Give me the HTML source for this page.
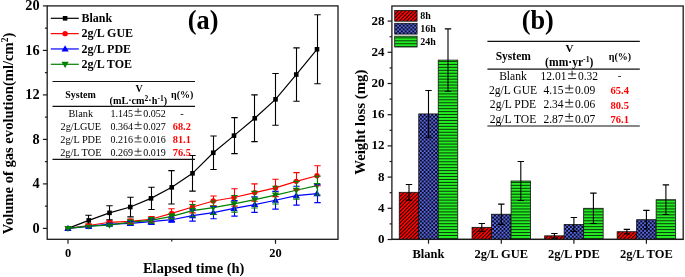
<!DOCTYPE html>
<html><head><meta charset="utf-8"><title>Chart</title>
<style>html,body{margin:0;padding:0;background:#fff;width:685px;height:277px;overflow:hidden;font-family:"Liberation Serif",serif;}
.wrap{position:relative;width:685px;height:277px;}</style></head>
<body><div class="wrap">
<svg width="685" height="277" viewBox="0 0 685 277" style="position:absolute;left:0;top:0;will-change:transform">
<defs>
<pattern id="pr" patternUnits="userSpaceOnUse" width="2.65" height="2.65" patternTransform="rotate(45)"><rect width="2.65" height="2.65" fill="#ff0000"/><rect width="0.9" height="2.65" fill="#000"/></pattern>
<pattern id="pb" patternUnits="userSpaceOnUse" width="3.8" height="3.8"><rect width="3.8" height="3.8" fill="#06061e"/><circle cx="0.95" cy="0.95" r="1.05" fill="#6677fa"/><circle cx="2.85" cy="2.85" r="1.05" fill="#6677fa"/></pattern>
<pattern id="pg" patternUnits="userSpaceOnUse" width="4" height="2.95"><rect width="4" height="2.95" fill="#22ee22"/><rect y="1.95" width="4" height="1.0" fill="#0a3a0a"/></pattern>
</defs>
<rect x="47.2" y="5.9" width="290.8" height="233.4" fill="none" stroke="#1a1a1a" stroke-width="1.3"/>
<line x1="42.900000000000006" y1="228.4" x2="47.2" y2="228.4" stroke="#1a1a1a" stroke-width="1.2"/>
<text x="39.6" y="232.8" text-anchor="end" font-family='"Liberation Serif", serif' font-weight="bold" font-size="14.3">0</text>
<line x1="44.900000000000006" y1="206.15" x2="47.2" y2="206.15" stroke="#1a1a1a" stroke-width="1.2"/>
<line x1="42.900000000000006" y1="183.9" x2="47.2" y2="183.9" stroke="#1a1a1a" stroke-width="1.2"/>
<text x="39.6" y="188.3" text-anchor="end" font-family='"Liberation Serif", serif' font-weight="bold" font-size="14.3">4</text>
<line x1="44.900000000000006" y1="161.65" x2="47.2" y2="161.65" stroke="#1a1a1a" stroke-width="1.2"/>
<line x1="42.900000000000006" y1="139.4" x2="47.2" y2="139.4" stroke="#1a1a1a" stroke-width="1.2"/>
<text x="39.6" y="143.8" text-anchor="end" font-family='"Liberation Serif", serif' font-weight="bold" font-size="14.3">8</text>
<line x1="44.900000000000006" y1="117.15" x2="47.2" y2="117.15" stroke="#1a1a1a" stroke-width="1.2"/>
<line x1="42.900000000000006" y1="94.9" x2="47.2" y2="94.9" stroke="#1a1a1a" stroke-width="1.2"/>
<text x="39.6" y="99.30000000000001" text-anchor="end" font-family='"Liberation Serif", serif' font-weight="bold" font-size="14.3">12</text>
<line x1="44.900000000000006" y1="72.65" x2="47.2" y2="72.65" stroke="#1a1a1a" stroke-width="1.2"/>
<line x1="42.900000000000006" y1="50.400000000000006" x2="47.2" y2="50.400000000000006" stroke="#1a1a1a" stroke-width="1.2"/>
<text x="39.6" y="54.800000000000004" text-anchor="end" font-family='"Liberation Serif", serif' font-weight="bold" font-size="14.3">16</text>
<line x1="44.900000000000006" y1="28.150000000000006" x2="47.2" y2="28.150000000000006" stroke="#1a1a1a" stroke-width="1.2"/>
<line x1="42.900000000000006" y1="5.900000000000006" x2="47.2" y2="5.900000000000006" stroke="#1a1a1a" stroke-width="1.2"/>
<text x="39.6" y="10.300000000000006" text-anchor="end" font-family='"Liberation Serif", serif' font-weight="bold" font-size="14.3">20</text>
<line x1="68.0" y1="239.3" x2="68.0" y2="243.8" stroke="#1a1a1a" stroke-width="1.2"/>
<text x="68.0" y="256.8" text-anchor="middle" font-family='"Liberation Serif", serif' font-weight="bold" font-size="12.4">0</text>
<line x1="171.75" y1="239.3" x2="171.75" y2="241.60000000000002" stroke="#1a1a1a" stroke-width="1.2"/>
<line x1="275.5" y1="239.3" x2="275.5" y2="243.8" stroke="#1a1a1a" stroke-width="1.2"/>
<text x="275.5" y="256.8" text-anchor="middle" font-family='"Liberation Serif", serif' font-weight="bold" font-size="12.4">20</text>
<text x="193.7" y="272.9" text-anchor="middle" font-family='"Liberation Serif", serif' font-weight="bold" font-size="14.5">Elapsed time (h)</text>
<text transform="translate(13.0,133.5) rotate(-90)" text-anchor="middle" font-family='"Liberation Serif", serif' font-weight="bold" font-size="14.6">Volume of gas evolution(ml/cm<tspan dy="-5" font-size="9.5">2</tspan><tspan dy="5">)</tspan></text>
<text x="203.2" y="28.9" text-anchor="middle" font-family='"Liberation Serif", serif' font-weight="bold" font-size="26.3">(a)</text>
<polyline points="68.00,228.40 88.75,220.39 109.50,212.83 130.25,207.04 151.00,198.36 171.75,187.35 192.50,173.33 213.25,152.75 234.00,135.62 254.75,118.26 275.50,99.35 296.25,74.54 317.00,49.29" fill="none" stroke="#000000" stroke-width="1.2"/>
<rect x="65.70" y="226.10" width="4.6" height="4.6" fill="#000000"/>
<rect x="86.45" y="218.09" width="4.6" height="4.6" fill="#000000"/>
<rect x="107.20" y="210.53" width="4.6" height="4.6" fill="#000000"/>
<rect x="127.95" y="204.74" width="4.6" height="4.6" fill="#000000"/>
<rect x="148.70" y="196.06" width="4.6" height="4.6" fill="#000000"/>
<rect x="169.45" y="185.05" width="4.6" height="4.6" fill="#000000"/>
<rect x="190.20" y="171.03" width="4.6" height="4.6" fill="#000000"/>
<rect x="210.95" y="150.45" width="4.6" height="4.6" fill="#000000"/>
<rect x="231.70" y="133.32" width="4.6" height="4.6" fill="#000000"/>
<rect x="252.45" y="115.96" width="4.6" height="4.6" fill="#000000"/>
<rect x="273.20" y="97.05" width="4.6" height="4.6" fill="#000000"/>
<rect x="293.95" y="72.24" width="4.6" height="4.6" fill="#000000"/>
<rect x="314.70" y="46.99" width="4.6" height="4.6" fill="#000000"/>
<polyline points="68.00,228.40 88.75,225.51 109.50,222.28 130.25,221.28 151.00,219.28 171.75,213.38 192.50,207.04 213.25,201.03 234.00,197.47 254.75,192.58 275.50,187.91 296.25,181.34 317.00,175.78" fill="none" stroke="#ff0000" stroke-width="1.2"/>
<circle cx="68.00" cy="228.40" r="2.7" fill="#ff0000"/>
<circle cx="88.75" cy="225.51" r="2.7" fill="#ff0000"/>
<circle cx="109.50" cy="222.28" r="2.7" fill="#ff0000"/>
<circle cx="130.25" cy="221.28" r="2.7" fill="#ff0000"/>
<circle cx="151.00" cy="219.28" r="2.7" fill="#ff0000"/>
<circle cx="171.75" cy="213.38" r="2.7" fill="#ff0000"/>
<circle cx="192.50" cy="207.04" r="2.7" fill="#ff0000"/>
<circle cx="213.25" cy="201.03" r="2.7" fill="#ff0000"/>
<circle cx="234.00" cy="197.47" r="2.7" fill="#ff0000"/>
<circle cx="254.75" cy="192.58" r="2.7" fill="#ff0000"/>
<circle cx="275.50" cy="187.91" r="2.7" fill="#ff0000"/>
<circle cx="296.25" cy="181.34" r="2.7" fill="#ff0000"/>
<circle cx="317.00" cy="175.78" r="2.7" fill="#ff0000"/>
<polyline points="68.00,228.40 88.75,226.40 109.50,224.17 130.25,223.39 151.00,221.72 171.75,219.72 192.50,215.61 213.25,212.60 234.00,208.38 254.75,204.59 275.50,200.25 296.25,195.69 317.00,193.69" fill="none" stroke="#0000ff" stroke-width="1.2"/>
<polygon points="68.00,224.80 71.60,230.92 64.40,230.92" fill="#0000ff"/>
<polygon points="88.75,222.80 92.35,228.92 85.15,228.92" fill="#0000ff"/>
<polygon points="109.50,220.57 113.10,226.69 105.90,226.69" fill="#0000ff"/>
<polygon points="130.25,219.79 133.85,225.91 126.65,225.91" fill="#0000ff"/>
<polygon points="151.00,218.12 154.60,224.25 147.40,224.25" fill="#0000ff"/>
<polygon points="171.75,216.12 175.35,222.24 168.15,222.24" fill="#0000ff"/>
<polygon points="192.50,212.01 196.10,218.13 188.90,218.13" fill="#0000ff"/>
<polygon points="213.25,209.00 216.85,215.12 209.65,215.12" fill="#0000ff"/>
<polygon points="234.00,204.78 237.60,210.90 230.40,210.90" fill="#0000ff"/>
<polygon points="254.75,200.99 258.35,207.11 251.15,207.11" fill="#0000ff"/>
<polygon points="275.50,196.65 279.10,202.77 271.90,202.77" fill="#0000ff"/>
<polygon points="296.25,192.09 299.85,198.21 292.65,198.21" fill="#0000ff"/>
<polygon points="317.00,190.09 320.60,196.21 313.40,196.21" fill="#0000ff"/>
<polyline points="68.00,228.40 88.75,226.18 109.50,225.06 130.25,222.17 151.00,220.39 171.75,216.38 192.50,210.60 213.25,207.71 234.00,203.81 254.75,199.70 275.50,195.14 296.25,190.24 317.00,185.57" fill="none" stroke="#008000" stroke-width="1.2"/>
<polygon points="68.00,232.00 71.60,225.88 64.40,225.88" fill="#008000"/>
<polygon points="88.75,229.78 92.35,223.66 85.15,223.66" fill="#008000"/>
<polygon points="109.50,228.66 113.10,222.54 105.90,222.54" fill="#008000"/>
<polygon points="130.25,225.77 133.85,219.65 126.65,219.65" fill="#008000"/>
<polygon points="151.00,223.99 154.60,217.87 147.40,217.87" fill="#008000"/>
<polygon points="171.75,219.98 175.35,213.86 168.15,213.86" fill="#008000"/>
<polygon points="192.50,214.20 196.10,208.08 188.90,208.08" fill="#008000"/>
<polygon points="213.25,211.31 216.85,205.19 209.65,205.19" fill="#008000"/>
<polygon points="234.00,207.41 237.60,201.29 230.40,201.29" fill="#008000"/>
<polygon points="254.75,203.30 258.35,197.18 251.15,197.18" fill="#008000"/>
<polygon points="275.50,198.74 279.10,192.62 271.90,192.62" fill="#008000"/>
<polygon points="296.25,193.84 299.85,187.72 292.65,187.72" fill="#008000"/>
<polygon points="317.00,189.17 320.60,183.05 313.40,183.05" fill="#008000"/>
<path d="M88.50,215.27V225.51M85.30,215.27H91.70M85.30,225.51H91.70" stroke="#000000" stroke-width="1.1" fill="none"/>
<path d="M109.50,205.82V219.83M106.30,205.82H112.70M106.30,219.83H112.70" stroke="#000000" stroke-width="1.1" fill="none"/>
<path d="M130.50,197.25V216.83M127.30,197.25H133.70M127.30,216.83H133.70" stroke="#000000" stroke-width="1.1" fill="none"/>
<path d="M151.50,187.24V209.49M148.30,187.24H154.70M148.30,209.49H154.70" stroke="#000000" stroke-width="1.1" fill="none"/>
<path d="M171.50,170.66V204.04M168.30,170.66H174.70M168.30,204.04H174.70" stroke="#000000" stroke-width="1.1" fill="none"/>
<path d="M192.50,155.53V191.13M189.30,155.53H195.70M189.30,191.13H195.70" stroke="#000000" stroke-width="1.1" fill="none"/>
<path d="M213.50,136.06V169.44M210.30,136.06H216.70M210.30,169.44H216.70" stroke="#000000" stroke-width="1.1" fill="none"/>
<path d="M234.50,117.59V153.64M231.30,117.59H237.70M231.30,153.64H237.70" stroke="#000000" stroke-width="1.1" fill="none"/>
<path d="M254.50,94.90V141.62M251.30,94.90H257.70M251.30,141.62H257.70" stroke="#000000" stroke-width="1.1" fill="none"/>
<path d="M275.50,73.43V125.27M272.30,73.43H278.70M272.30,125.27H278.70" stroke="#000000" stroke-width="1.1" fill="none"/>
<path d="M296.50,47.84V101.24M293.30,47.84H299.70M293.30,101.24H299.70" stroke="#000000" stroke-width="1.1" fill="none"/>
<path d="M317.50,14.80V83.77M314.30,14.80H320.70M314.30,83.77H320.70" stroke="#000000" stroke-width="1.1" fill="none"/>
<path d="M88.50,224.17V226.84M85.30,224.17H91.70M85.30,226.84H91.70" stroke="#ff0000" stroke-width="1.1" fill="none"/>
<path d="M109.50,221.17V223.39M106.30,221.17H112.70M106.30,223.39H112.70" stroke="#ff0000" stroke-width="1.1" fill="none"/>
<path d="M130.50,219.17V223.39M127.30,219.17H133.70M127.30,223.39H133.70" stroke="#ff0000" stroke-width="1.1" fill="none"/>
<path d="M151.50,216.50V222.06M148.30,216.50H154.70M148.30,222.06H154.70" stroke="#ff0000" stroke-width="1.1" fill="none"/>
<path d="M171.50,208.71V218.05M168.30,208.71H174.70M168.30,218.05H174.70" stroke="#ff0000" stroke-width="1.1" fill="none"/>
<path d="M192.50,201.25V212.83M189.30,201.25H195.70M189.30,212.83H195.70" stroke="#ff0000" stroke-width="1.1" fill="none"/>
<path d="M213.50,196.03V206.04M210.30,196.03H216.70M210.30,206.04H216.70" stroke="#ff0000" stroke-width="1.1" fill="none"/>
<path d="M234.50,188.80V206.15M231.30,188.80H237.70M231.30,206.15H237.70" stroke="#ff0000" stroke-width="1.1" fill="none"/>
<path d="M254.50,183.90V201.25M251.30,183.90H257.70M251.30,201.25H257.70" stroke="#ff0000" stroke-width="1.1" fill="none"/>
<path d="M275.50,179.23V196.58M272.30,179.23H278.70M272.30,196.58H278.70" stroke="#ff0000" stroke-width="1.1" fill="none"/>
<path d="M296.50,172.66V190.02M293.30,172.66H299.70M293.30,190.02H299.70" stroke="#ff0000" stroke-width="1.1" fill="none"/>
<path d="M317.50,165.77V185.79M314.30,165.77H320.70M314.30,185.79H320.70" stroke="#ff0000" stroke-width="1.1" fill="none"/>
<path d="M88.50,225.84V226.95M85.30,225.84H91.70M85.30,226.95H91.70" stroke="#0000ff" stroke-width="1.1" fill="none"/>
<path d="M109.50,223.28V225.06M106.30,223.28H112.70M106.30,225.06H112.70" stroke="#0000ff" stroke-width="1.1" fill="none"/>
<path d="M130.50,221.39V225.40M127.30,221.39H133.70M127.30,225.40H133.70" stroke="#0000ff" stroke-width="1.1" fill="none"/>
<path d="M151.50,218.94V224.51M148.30,218.94H154.70M148.30,224.51H154.70" stroke="#0000ff" stroke-width="1.1" fill="none"/>
<path d="M171.50,217.28V222.17M168.30,217.28H174.70M168.30,222.17H174.70" stroke="#0000ff" stroke-width="1.1" fill="none"/>
<path d="M192.50,210.04V221.17M189.30,210.04H195.70M189.30,221.17H195.70" stroke="#0000ff" stroke-width="1.1" fill="none"/>
<path d="M213.50,206.48V218.72M210.30,206.48H216.70M210.30,218.72H216.70" stroke="#0000ff" stroke-width="1.1" fill="none"/>
<path d="M234.50,200.59V216.16M231.30,200.59H237.70M231.30,216.16H237.70" stroke="#0000ff" stroke-width="1.1" fill="none"/>
<path d="M254.50,196.81V212.38M251.30,196.81H257.70M251.30,212.38H257.70" stroke="#0000ff" stroke-width="1.1" fill="none"/>
<path d="M275.50,191.35V209.15M272.30,191.35H278.70M272.30,209.15H278.70" stroke="#0000ff" stroke-width="1.1" fill="none"/>
<path d="M296.50,186.24V205.15M293.30,186.24H299.70M293.30,205.15H299.70" stroke="#0000ff" stroke-width="1.1" fill="none"/>
<path d="M317.50,184.79V202.59M314.30,184.79H320.70M314.30,202.59H320.70" stroke="#0000ff" stroke-width="1.1" fill="none"/>
<path d="M88.50,225.51V226.84M85.30,225.51H91.70M85.30,226.84H91.70" stroke="#008000" stroke-width="1.1" fill="none"/>
<path d="M109.50,224.17V225.95M106.30,224.17H112.70M106.30,225.95H112.70" stroke="#008000" stroke-width="1.1" fill="none"/>
<path d="M130.50,219.94V224.40M127.30,219.94H133.70M127.30,224.40H133.70" stroke="#008000" stroke-width="1.1" fill="none"/>
<path d="M151.50,217.61V223.17M148.30,217.61H154.70M148.30,223.17H154.70" stroke="#008000" stroke-width="1.1" fill="none"/>
<path d="M171.50,213.94V218.83M168.30,213.94H174.70M168.30,218.83H174.70" stroke="#008000" stroke-width="1.1" fill="none"/>
<path d="M192.50,204.48V216.72M189.30,204.48H195.70M189.30,216.72H195.70" stroke="#008000" stroke-width="1.1" fill="none"/>
<path d="M213.50,201.03V214.38M210.30,201.03H216.70M210.30,214.38H216.70" stroke="#008000" stroke-width="1.1" fill="none"/>
<path d="M234.50,195.47V212.16M231.30,195.47H237.70M231.30,212.16H237.70" stroke="#008000" stroke-width="1.1" fill="none"/>
<path d="M254.50,191.35V208.04M251.30,191.35H257.70M251.30,208.04H257.70" stroke="#008000" stroke-width="1.1" fill="none"/>
<path d="M275.50,186.24V204.04M272.30,186.24H278.70M272.30,204.04H278.70" stroke="#008000" stroke-width="1.1" fill="none"/>
<path d="M296.50,181.34V199.14M293.30,181.34H299.70M293.30,199.14H299.70" stroke="#008000" stroke-width="1.1" fill="none"/>
<path d="M317.50,176.11V195.03M314.30,176.11H320.70M314.30,195.03H320.70" stroke="#008000" stroke-width="1.1" fill="none"/>
<line x1="50.8" y1="18.3" x2="78.8" y2="18.3" stroke="#000" stroke-width="1.2"/>
<rect x="62.80" y="16.00" width="4.6" height="4.6" fill="#000"/>
<text x="81.4" y="22.150000000000002" font-family='"Liberation Serif", serif' font-weight="bold" font-size="12">Blank</text>
<line x1="50.8" y1="33.63" x2="78.8" y2="33.63" stroke="#ff0000" stroke-width="1.2"/>
<circle cx="65.10" cy="33.63" r="2.7" fill="#ff0000"/>
<text x="81.4" y="37.480000000000004" font-family='"Liberation Serif", serif' font-weight="bold" font-size="12">2g/L GUE</text>
<line x1="50.8" y1="48.96" x2="78.8" y2="48.96" stroke="#0000ff" stroke-width="1.2"/>
<polygon points="65.10,45.36 68.70,51.48 61.50,51.48" fill="#0000ff"/>
<text x="81.4" y="52.81" font-family='"Liberation Serif", serif' font-weight="bold" font-size="12">2g/L PDE</text>
<line x1="50.8" y1="64.29" x2="78.8" y2="64.29" stroke="#008000" stroke-width="1.2"/>
<polygon points="65.10,67.89 68.70,61.77 61.50,61.77" fill="#008000"/>
<text x="81.4" y="68.14" font-family='"Liberation Serif", serif' font-weight="bold" font-size="12">2g/L TOE</text>
<line x1="52.5" y1="81.45" x2="195" y2="81.45" stroke="#111" stroke-width="1.15"/>
<line x1="52.5" y1="106.35" x2="195" y2="106.35" stroke="#111" stroke-width="1.15"/>
<line x1="52.5" y1="159.3" x2="195" y2="159.3" stroke="#111" stroke-width="1.15"/>
<text x="80.5" y="98.1" text-anchor="middle" font-family='"Liberation Serif", serif' font-weight="bold" font-size="10">System</text>
<text x="139" y="91.9" text-anchor="middle" font-family='"Liberation Serif", serif' font-weight="bold" font-size="10">V</text>
<text x="138.3" y="104.3" text-anchor="middle" font-family='"Liberation Serif", serif' font-weight="bold" font-size="10.2">(mL·cm<tspan dy="-3.6" font-size="7.5">2</tspan><tspan dy="3.6">·h</tspan><tspan dy="-3.6" font-size="7.5">-1</tspan><tspan dy="3.6">)</tspan></text>
<text x="182.2" y="98.3" text-anchor="middle" font-family='"Liberation Serif", serif' font-weight="bold" font-size="10">η(%)</text>
<text x="80.8" y="116.5" text-anchor="middle" font-family='"Liberation Serif", serif' font-size="10.3">Blank</text>
<text x="110.4" y="116.5" font-family='"Liberation Serif", serif' font-size="10.0">1.145</text>
<path d="M134.57,111.31H141.62M138.09,108.37V113.56M134.57,115.32H141.62" stroke="#222" stroke-width="0.83" fill="none"/>
<text x="143.20000000000002" y="116.5" font-family='"Liberation Serif", serif' font-size="10.0">0.052</text>
<text x="182" y="116.5" text-anchor="middle" font-family='"Liberation Serif", serif' font-size="10.3">-</text>
<text x="80.8" y="129.8" text-anchor="middle" font-family='"Liberation Serif", serif' font-size="10.3">2g/LGUE</text>
<text x="110.4" y="129.8" font-family='"Liberation Serif", serif' font-size="10.0">0.364</text>
<path d="M134.57,124.61H141.62M138.09,121.67V126.86M134.57,128.62H141.62" stroke="#222" stroke-width="0.83" fill="none"/>
<text x="143.20000000000002" y="129.8" font-family='"Liberation Serif", serif' font-size="10.0">0.027</text>
<text x="181.8" y="129.70000000000002" text-anchor="middle" fill="#ff0000" font-family='"Liberation Serif", serif' font-weight="bold" font-size="10.3">68.2</text>
<text x="80.8" y="143.1" text-anchor="middle" font-family='"Liberation Serif", serif' font-size="10.3">2g/L PDE</text>
<text x="110.4" y="143.1" font-family='"Liberation Serif", serif' font-size="10.0">0.216</text>
<path d="M134.57,137.91H141.62M138.09,134.97V140.16M134.57,141.92H141.62" stroke="#222" stroke-width="0.83" fill="none"/>
<text x="143.20000000000002" y="143.1" font-family='"Liberation Serif", serif' font-size="10.0">0.016</text>
<text x="181.8" y="143.0" text-anchor="middle" fill="#ff0000" font-family='"Liberation Serif", serif' font-weight="bold" font-size="10.3">81.1</text>
<text x="80.8" y="156.4" text-anchor="middle" font-family='"Liberation Serif", serif' font-size="10.3">2g/L TOE</text>
<text x="110.4" y="156.4" font-family='"Liberation Serif", serif' font-size="10.0">0.269</text>
<path d="M134.57,151.21H141.62M138.09,148.27V153.46M134.57,155.22H141.62" stroke="#222" stroke-width="0.83" fill="none"/>
<text x="143.20000000000002" y="156.4" font-family='"Liberation Serif", serif' font-size="10.0">0.019</text>
<text x="181.8" y="156.3" text-anchor="middle" fill="#ff0000" font-family='"Liberation Serif", serif' font-weight="bold" font-size="10.3">76.5</text>
<rect x="391.9" y="6.0" width="291.30000000000007" height="233.4" fill="none" stroke="#1a1a1a" stroke-width="1.3"/>
<line x1="387.59999999999997" y1="239.5" x2="391.9" y2="239.5" stroke="#1a1a1a" stroke-width="1.2"/>
<text x="384.6" y="242.95" text-anchor="end" font-family='"Liberation Serif", serif' font-weight="bold" font-size="13">0</text>
<line x1="389.59999999999997" y1="223.9" x2="391.9" y2="223.9" stroke="#1a1a1a" stroke-width="1.2"/>
<line x1="387.59999999999997" y1="208.3" x2="391.9" y2="208.3" stroke="#1a1a1a" stroke-width="1.2"/>
<text x="384.6" y="211.75" text-anchor="end" font-family='"Liberation Serif", serif' font-weight="bold" font-size="13">4</text>
<line x1="389.59999999999997" y1="192.7" x2="391.9" y2="192.7" stroke="#1a1a1a" stroke-width="1.2"/>
<line x1="387.59999999999997" y1="177.1" x2="391.9" y2="177.1" stroke="#1a1a1a" stroke-width="1.2"/>
<text x="384.6" y="180.54999999999998" text-anchor="end" font-family='"Liberation Serif", serif' font-weight="bold" font-size="13">8</text>
<line x1="389.59999999999997" y1="161.5" x2="391.9" y2="161.5" stroke="#1a1a1a" stroke-width="1.2"/>
<line x1="387.59999999999997" y1="145.9" x2="391.9" y2="145.9" stroke="#1a1a1a" stroke-width="1.2"/>
<text x="384.6" y="149.35" text-anchor="end" font-family='"Liberation Serif", serif' font-weight="bold" font-size="13">12</text>
<line x1="389.59999999999997" y1="130.3" x2="391.9" y2="130.3" stroke="#1a1a1a" stroke-width="1.2"/>
<line x1="387.59999999999997" y1="114.7" x2="391.9" y2="114.7" stroke="#1a1a1a" stroke-width="1.2"/>
<text x="384.6" y="118.15" text-anchor="end" font-family='"Liberation Serif", serif' font-weight="bold" font-size="13">16</text>
<line x1="389.59999999999997" y1="99.1" x2="391.9" y2="99.1" stroke="#1a1a1a" stroke-width="1.2"/>
<line x1="387.59999999999997" y1="83.5" x2="391.9" y2="83.5" stroke="#1a1a1a" stroke-width="1.2"/>
<text x="384.6" y="86.95" text-anchor="end" font-family='"Liberation Serif", serif' font-weight="bold" font-size="13">20</text>
<line x1="389.59999999999997" y1="67.9" x2="391.9" y2="67.9" stroke="#1a1a1a" stroke-width="1.2"/>
<line x1="387.59999999999997" y1="52.30000000000001" x2="391.9" y2="52.30000000000001" stroke="#1a1a1a" stroke-width="1.2"/>
<text x="384.6" y="55.750000000000014" text-anchor="end" font-family='"Liberation Serif", serif' font-weight="bold" font-size="13">24</text>
<line x1="389.59999999999997" y1="36.70000000000002" x2="391.9" y2="36.70000000000002" stroke="#1a1a1a" stroke-width="1.2"/>
<line x1="387.59999999999997" y1="21.099999999999994" x2="391.9" y2="21.099999999999994" stroke="#1a1a1a" stroke-width="1.2"/>
<text x="384.6" y="24.549999999999994" text-anchor="end" font-family='"Liberation Serif", serif' font-weight="bold" font-size="13">28</text>
<text transform="translate(365.3,122.2) rotate(-90)" text-anchor="middle" font-family='"Liberation Serif", serif' font-weight="bold" font-size="14.8">Weight loss (mg)</text>
<text x="537.7" y="29.2" text-anchor="middle" font-family='"Liberation Serif", serif' font-weight="bold" font-size="26.3">(b)</text>
<rect x="399.25" y="192.31" width="19.5" height="47.19" fill="url(#pr)" stroke="#111" stroke-width="0.8"/>
<rect x="418.75" y="113.92" width="19.5" height="125.58" fill="url(#pb)" stroke="#111" stroke-width="0.8"/>
<rect x="438.25" y="60.10" width="19.5" height="179.40" fill="url(#pg)" stroke="#111" stroke-width="0.8"/>
<path d="M409.00,184.51V200.11M405.80,184.51H412.20M405.80,200.11H412.20" stroke="#000" stroke-width="1.1" fill="none"/>
<path d="M428.50,90.52V137.32M425.30,90.52H431.70M425.30,137.32H431.70" stroke="#000" stroke-width="1.1" fill="none"/>
<path d="M448.00,28.90V91.30M444.80,28.90H451.20M444.80,91.30H451.20" stroke="#000" stroke-width="1.1" fill="none"/>
<line x1="428.5" y1="239.4" x2="428.5" y2="243.70000000000002" stroke="#1a1a1a" stroke-width="1.2"/>
<text x="428.5" y="257.9" text-anchor="middle" font-family='"Liberation Serif", serif' font-weight="bold" font-size="12.5">Blank</text>
<rect x="472.05" y="227.33" width="19.5" height="12.17" fill="url(#pr)" stroke="#111" stroke-width="0.8"/>
<rect x="491.55" y="214.23" width="19.5" height="25.27" fill="url(#pb)" stroke="#111" stroke-width="0.8"/>
<rect x="511.05" y="181.00" width="19.5" height="58.50" fill="url(#pg)" stroke="#111" stroke-width="0.8"/>
<path d="M481.80,223.43V231.23M478.60,223.43H485.00M478.60,231.23H485.00" stroke="#000" stroke-width="1.1" fill="none"/>
<path d="M501.30,204.09V224.37M498.10,204.09H504.50M498.10,224.37H504.50" stroke="#000" stroke-width="1.1" fill="none"/>
<path d="M520.80,161.50V200.50M517.60,161.50H524.00M517.60,200.50H524.00" stroke="#000" stroke-width="1.1" fill="none"/>
<line x1="501.3" y1="239.4" x2="501.3" y2="243.70000000000002" stroke="#1a1a1a" stroke-width="1.2"/>
<text x="501.3" y="257.9" text-anchor="middle" font-family='"Liberation Serif", serif' font-weight="bold" font-size="12.5">2g/L GUE</text>
<rect x="544.65" y="235.83" width="19.5" height="3.67" fill="url(#pr)" stroke="#111" stroke-width="0.8"/>
<rect x="564.15" y="224.52" width="19.5" height="14.98" fill="url(#pb)" stroke="#111" stroke-width="0.8"/>
<rect x="583.65" y="208.30" width="19.5" height="31.20" fill="url(#pg)" stroke="#111" stroke-width="0.8"/>
<path d="M554.40,233.49V238.17M551.20,233.49H557.60M551.20,238.17H557.60" stroke="#000" stroke-width="1.1" fill="none"/>
<path d="M573.90,217.50V231.54M570.70,217.50H577.10M570.70,231.54H577.10" stroke="#000" stroke-width="1.1" fill="none"/>
<path d="M593.40,193.09V223.51M590.20,193.09H596.60M590.20,223.51H596.60" stroke="#000" stroke-width="1.1" fill="none"/>
<line x1="573.9" y1="239.4" x2="573.9" y2="243.70000000000002" stroke="#1a1a1a" stroke-width="1.2"/>
<text x="573.9" y="257.9" text-anchor="middle" font-family='"Liberation Serif", serif' font-weight="bold" font-size="12.5">2g/L PDE</text>
<rect x="617.15" y="231.70" width="19.5" height="7.80" fill="url(#pr)" stroke="#111" stroke-width="0.8"/>
<rect x="636.65" y="219.69" width="19.5" height="19.81" fill="url(#pb)" stroke="#111" stroke-width="0.8"/>
<rect x="656.15" y="199.72" width="19.5" height="39.78" fill="url(#pg)" stroke="#111" stroke-width="0.8"/>
<path d="M626.90,229.36V234.04M623.70,229.36H630.10M623.70,234.04H630.10" stroke="#000" stroke-width="1.1" fill="none"/>
<path d="M646.40,210.33V229.05M643.20,210.33H649.60M643.20,229.05H649.60" stroke="#000" stroke-width="1.1" fill="none"/>
<path d="M665.90,184.90V214.54M662.70,184.90H669.10M662.70,214.54H669.10" stroke="#000" stroke-width="1.1" fill="none"/>
<line x1="646.4" y1="239.4" x2="646.4" y2="243.70000000000002" stroke="#1a1a1a" stroke-width="1.2"/>
<text x="646.4" y="257.9" text-anchor="middle" font-family='"Liberation Serif", serif' font-weight="bold" font-size="12.5">2g/L TOE</text>
<line x1="391.9" y1="239.4" x2="683.2" y2="239.4" stroke="#1a1a1a" stroke-width="1.3"/>
<rect x="394.7" y="10.4" width="22.4" height="10.8" fill="url(#pr)" stroke="#111" stroke-width="0.8"/>
<text x="420.2" y="18.8" font-family='"Liberation Serif", serif' font-weight="bold" font-size="10">8h</text>
<rect x="394.7" y="23.3" width="22.4" height="10.8" fill="url(#pb)" stroke="#111" stroke-width="0.8"/>
<text x="420.2" y="31.700000000000003" font-family='"Liberation Serif", serif' font-weight="bold" font-size="10">16h</text>
<rect x="394.7" y="36.2" width="22.4" height="10.8" fill="url(#pg)" stroke="#111" stroke-width="0.8"/>
<text x="420.2" y="44.6" font-family='"Liberation Serif", serif' font-weight="bold" font-size="10">24h</text>
<line x1="487.4" y1="41.45" x2="639.8" y2="41.45" stroke="#111" stroke-width="1.2"/>
<line x1="487.4" y1="69.2" x2="639.8" y2="69.2" stroke="#111" stroke-width="1.2"/>
<line x1="487.4" y1="126.0" x2="639.8" y2="126.0" stroke="#111" stroke-width="1.2"/>
<text x="513.3" y="60.1" text-anchor="middle" font-family='"Liberation Serif", serif' font-weight="bold" font-size="11.5">System</text>
<text x="569.5" y="51.8" text-anchor="middle" font-family='"Liberation Serif", serif' font-weight="bold" font-size="11">V</text>
<text x="569.3" y="66.2" text-anchor="middle" font-family='"Liberation Serif", serif' font-weight="bold" font-size="11.6">(mm·yr<tspan dy="-4" font-size="7.8">-1</tspan><tspan dy="4">)</tspan></text>
<text x="620" y="59.6" text-anchor="middle" font-family='"Liberation Serif", serif' font-weight="bold" font-size="10">η(%)</text>
<text x="513" y="79.9" text-anchor="middle" font-family='"Liberation Serif", serif' font-size="11.6">Blank</text>
<text x="540.55" y="79.9" font-family='"Liberation Serif", serif' font-size="11.5">12.01</text>
<path d="M568.04,73.93H576.16M572.10,70.55V76.52M568.04,78.55H576.16" stroke="#222" stroke-width="0.96" fill="none"/>
<text x="577.92" y="79.9" font-family='"Liberation Serif", serif' font-size="11.5">0.32</text>
<text x="619.7" y="79.4" text-anchor="middle" font-family='"Liberation Serif", serif' font-size="11">-</text>
<text x="513" y="94.10000000000001" text-anchor="middle" font-family='"Liberation Serif", serif' font-size="11.6">2g/L GUE</text>
<text x="543.42" y="94.10000000000001" font-family='"Liberation Serif", serif' font-size="11.5">4.15</text>
<path d="M565.17,88.13H573.28M569.22,84.75V90.72M565.17,92.75H573.28" stroke="#222" stroke-width="0.96" fill="none"/>
<text x="575.05" y="94.10000000000001" font-family='"Liberation Serif", serif' font-size="11.5">0.09</text>
<text x="619.7" y="94.30000000000001" text-anchor="middle" fill="#ff0000" font-family='"Liberation Serif", serif' font-weight="bold" font-size="10.5">65.4</text>
<text x="513" y="108.30000000000001" text-anchor="middle" font-family='"Liberation Serif", serif' font-size="11.6">2g/L PDE</text>
<text x="543.42" y="108.30000000000001" font-family='"Liberation Serif", serif' font-size="11.5">2.34</text>
<path d="M565.17,102.33H573.28M569.22,98.95V104.92M565.17,106.95H573.28" stroke="#222" stroke-width="0.96" fill="none"/>
<text x="575.05" y="108.30000000000001" font-family='"Liberation Serif", serif' font-size="11.5">0.06</text>
<text x="619.7" y="108.50000000000001" text-anchor="middle" fill="#ff0000" font-family='"Liberation Serif", serif' font-weight="bold" font-size="10.5">80.5</text>
<text x="513" y="122.5" text-anchor="middle" font-family='"Liberation Serif", serif' font-size="11.6">2g/L TOE</text>
<text x="543.42" y="122.5" font-family='"Liberation Serif", serif' font-size="11.5">2.87</text>
<path d="M565.17,116.53H573.28M569.22,113.15V119.12M565.17,121.15H573.28" stroke="#222" stroke-width="0.96" fill="none"/>
<text x="575.05" y="122.5" font-family='"Liberation Serif", serif' font-size="11.5">0.07</text>
<text x="619.7" y="122.7" text-anchor="middle" fill="#ff0000" font-family='"Liberation Serif", serif' font-weight="bold" font-size="10.5">76.1</text>
</svg>
</div></body></html>
